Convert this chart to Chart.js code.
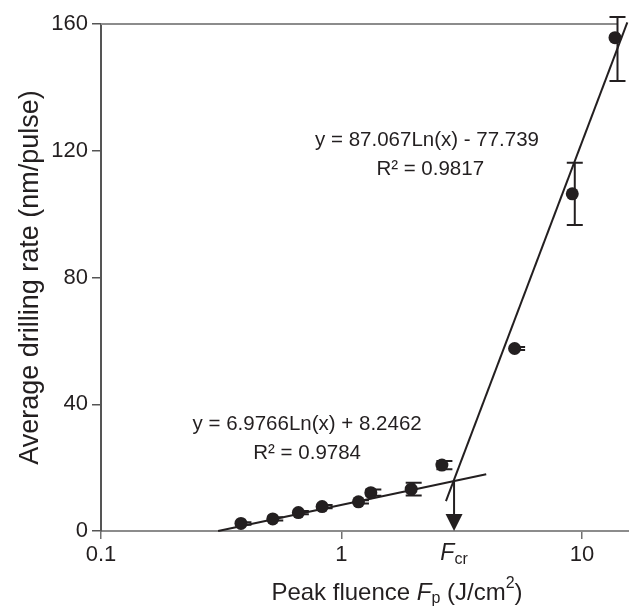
<!DOCTYPE html>
<html>
<head>
<meta charset="utf-8">
<script src="https://cdn.jsdelivr.net/npm/chart.js@4.4.1/dist/chart.umd.min.js"></script>
<style>
  html, body { margin: 0; padding: 0; background: #fff; }
  #wrap { width: 629px; height: 608px; position: relative; }
</style>
</head>
<body>
<div id="wrap"><canvas id="chart"></canvas></div>
<script>
// --- data ---
const X_TICKS = [0.1, 1, 10];
const Y_TICKS = [0, 40, 80, 120, 160];

const fluence = [0.382, 0.518, 0.662, 0.831, 1.177, 1.325, 1.95, 2.617, 5.25, 9.12, 13.73];
const rate    = [2.4, 3.8, 5.8, 7.7, 9.2, 12.1, 13.2, 20.8, 57.6, 106.4, 155.7];
const errUp   = [0.4, 0.5, 0.5, 0.5, 0.5, 1.0, 2.0, 1.3, 0.5, 9.8, 6.5];
const errDown = [0.4, 0.5, 0.5, 0.5, 0.5, 1.0, 2.0, 1.3, 0.5, 9.8, 13.7];

// trend lines (straight on a log-x axis, so two ends each)
const fitLowX  = [0.307, 4.0];
const fitLowY  = [0, 17.9];
const fitHighX = [2.72, 15.45];
const fitHighY = [9.4, 160.5];

const F_CR = 2.94;        // threshold fluence (arrow)
const F_CR_Y = 15.9;      // where the two fits cross
const TOP_LINE_END = 14.0;

const notes = [
  { x: 2.27, y: 123.2, text: 'y = 87.067Ln(x) - 77.739' },
  { x: 2.34, y: 114.2, text: 'R\u00B2 = 0.9817' },
  { x: 0.72, y: 33.8,  text: 'y = 6.9766Ln(x) + 8.2462' },
  { x: 0.72, y: 24.6,  text: 'R\u00B2 = 0.9784' }
];

const INK = '#231f20';
const FONT = '"Liberation Sans", Arial, Helvetica, sans-serif';

const pts = fluence.map((x, i) => ({ x, y: rate[i] }));
const pair = (xs, ys) => xs.map((x, i) => ({ x, y: ys[i] }));

// error bars, top frame line, arrow, notes, x title
const extras = {
  id: 'extras',
  beforeDatasetsDraw(chart) {
    const { ctx, scales: { x, y }, chartArea: a } = chart;
    ctx.save();
    // top frame line
    ctx.strokeStyle = '#8c8c8c';
    ctx.lineWidth = 2;
    ctx.beginPath();
    ctx.moveTo(a.left, y.getPixelForValue(160));
    ctx.lineTo(x.getPixelForValue(TOP_LINE_END), y.getPixelForValue(160));
    ctx.stroke();

    // error bars
    ctx.strokeStyle = INK;
    ctx.lineWidth = 2;
    const shift = 2.5, cap = 8;
    fluence.forEach((fx, i) => {
      const px = x.getPixelForValue(fx) + shift;
      const yt = y.getPixelForValue(rate[i] + errUp[i]);
      const yb = y.getPixelForValue(rate[i] - errDown[i]);
      ctx.beginPath();
      ctx.moveTo(px, yt); ctx.lineTo(px, yb);
      ctx.moveTo(px - cap, yt); ctx.lineTo(px + cap, yt);
      ctx.moveTo(px - cap, yb); ctx.lineTo(px + cap, yb);
      ctx.stroke();
    });
    ctx.restore();
  },
  afterDatasetsDraw(chart) {
    const { ctx, scales: { x, y }, chartArea: a } = chart;
    ctx.save();
    // arrow down to F_cr
    const ax = x.getPixelForValue(F_CR);
    const y0 = y.getPixelForValue(0);
    ctx.strokeStyle = INK; ctx.fillStyle = INK; ctx.lineWidth = 2;
    ctx.beginPath();
    ctx.moveTo(ax, y.getPixelForValue(F_CR_Y));
    ctx.lineTo(ax, y0 - 14);
    ctx.stroke();
    ctx.beginPath();
    ctx.moveTo(ax - 8.5, y0 - 17);
    ctx.lineTo(ax + 8.5, y0 - 17);
    ctx.lineTo(ax, y0);
    ctx.closePath();
    ctx.fill();

    // fit equations
    ctx.font = '20.5px ' + FONT;
    ctx.textAlign = 'center';
    ctx.textBaseline = 'middle';
    notes.forEach(n => ctx.fillText(n.text, x.getPixelForValue(n.x), y.getPixelForValue(n.y)));

    // F_cr label under the axis
    const ly = y0 + 23;
    ctx.textAlign = 'left';
    ctx.font = 'italic 23px ' + FONT;
    const wF = ctx.measureText('F').width;
    ctx.font = '16px ' + FONT;
    const wc = ctx.measureText('cr').width;
    let lx = ax - (wF + wc) / 2;
    ctx.font = 'italic 23px ' + FONT;
    ctx.fillText('F', lx, ly);
    ctx.font = '16px ' + FONT;
    ctx.fillText('cr', lx + wF, ly + 6);

    // x axis title with italic F and sub/superscripts
    const parts = [
      { t: 'Peak fluence ', f: '24px ', dy: 0 },
      { t: 'F', f: 'italic 24px ', dy: 0 },
      { t: 'p', f: '16px ', dy: 6 },
      { t: ' (J/cm', f: '24px ', dy: 0 },
      { t: '2', f: '16px ', dy: -9 },
      { t: ')', f: '24px ', dy: 0 }
    ];
    let total = 0;
    parts.forEach(p => { ctx.font = p.f + FONT; p.w = ctx.measureText(p.t).width; total += p.w; });
    let tx = (a.left + a.right) / 2 + 32 - total / 2;
    const ty = y0 + 62;
    parts.forEach(p => { ctx.font = p.f + FONT; ctx.fillText(p.t, tx, ty + p.dy); tx += p.w; });
    ctx.restore();
  }
};

new Chart(document.getElementById('chart'), {
  type: 'scatter',
  data: {
    datasets: [
      { data: pts, pointRadius: 6.5, pointHoverRadius: 6.5, backgroundColor: INK, borderWidth: 0 },
      { data: pair(fitLowX, fitLowY), showLine: true, borderColor: INK, borderWidth: 2, pointRadius: 0, clip: false },
      { data: pair(fitHighX, fitHighY), showLine: true, borderColor: INK, borderWidth: 2, pointRadius: 0, clip: false }
    ]
  },
  options: {
    responsive: true, maintainAspectRatio: false, animation: false,
    layout: { autoPadding: false, padding: { top: 24, right: 0, left: 0, bottom: 0 } },
    plugins: { legend: { display: false }, tooltip: { enabled: false } },
    scales: {
      x: {
        type: 'logarithmic', min: 0.1, max: 15.7,
        afterBuildTicks: s => { s.ticks = X_TICKS.map(v => ({ value: v })); },
        afterFit: s => { s.height = 77; },
        ticks: { color: INK, font: { family: FONT, size: 22 }, padding: 3, maxRotation: 0, autoSkip: false,
                 callback: v => String(v) },
        grid: { drawOnChartArea: false, tickLength: 8, color: '#707070', lineWidth: 1.5 },
        border: { color: '#8c8c8c', width: 2 }
      },
      y: {
        min: 0, max: 160,
        afterBuildTicks: s => { s.ticks = Y_TICKS.map(v => ({ value: v })); },
        afterFit: s => { s.width = 101; },
        ticks: { color: INK, font: { family: FONT, size: 22 }, padding: 4 },
        grid: { drawOnChartArea: false, tickLength: 9, color: '#555', lineWidth: 1.5 },
        border: { color: '#555', width: 2 },
        title: { display: true, text: 'Average drilling rate (nm/pulse)', color: INK,
                 font: { family: FONT, size: 27 }, padding: { top: 14, bottom: 0 } }
      }
    }
  },
  plugins: [extras]
});
</script>
</body>
</html>
